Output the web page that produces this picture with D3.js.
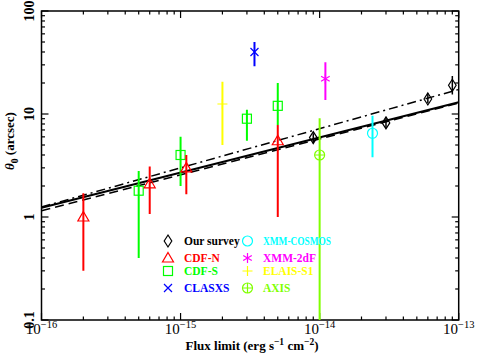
<!DOCTYPE html>
<html><head><meta charset="utf-8">
<script src="https://cdn.jsdelivr.net/npm/d3@7"></script>
<style>body{margin:0;background:#fff}svg{display:block}</style>
</head><body>
<script>
// ---- data ----
const surveyFlux = [9e-15, 3e-14, 6e-14, 9e-14];
const surveyTheta = [5.9, 8.2, 14, 19];
const surveyLo = [5.2, 7.3, 12.7, 15.5];
const surveyHi = [6.5, 9.3, 15.9, 23.4];

const cdfnFlux = [2e-16, 6e-16, 1.1e-15, 5e-15];
const cdfnTheta = [1.0, 2.1, 3.0, 5.5];
const cdfnLo = [0.3, 1.07, 1.66, 1.0];
const cdfnHi = [1.7, 3.1, 4.0, 7.8];

const cdfsFlux = [5e-16, 1e-15, 3e-15, 5e-15];
const cdfsTheta = [1.8, 4.0, 9.0, 12];
const cdfsLo = [0.4, 2.0, 5.5, 7.8];
const cdfsHi = [2.8, 6.0, 11, 20];

const clasxsFlux = [3.4e-15], clasxsTheta = [40], clasxsLo = [29], clasxsHi = [50];
const cosmosFlux = [2.4e-14], cosmosTheta = [6.5], cosmosLo = [3.8], cosmosHi = [9.6];
const xmm2dfFlux = [1.1e-14], xmm2dfTheta = [22], xmm2dfLo = [13.7], xmm2dfHi = [31.8];
const elaisFlux = [2e-15], elaisTheta = [12.5], elaisLo = [5.0], elaisHi = [20.6];
const axisFlux = [1e-14], axisTheta = [4.0], axisLo = [0.01], axisHi = [9.1];

// fitted lines (endpoints at flux 1e-16 and 1e-13)
const fitFlux = [1e-16, 1e-13];
const fitSolid = [1.23, 13.0];
const fitDashed = [1.15, 12.8];
const fitDashDot = [1.25, 17.3];

const xTickExps = [-16, -15, -14, -13];
const yTickVals = [0.1, 1, 10, 100];
const yTickLabels = ["0.1", "1", "10", "100"];

const legendItems = [
  {name: "Our survey", color: "#000000", sym: "diamond"},
  {name: "CDF-N", color: "#ff0000", sym: "triangle"},
  {name: "CDF-S", color: "#00ff00", sym: "square"},
  {name: "CLASXS", color: "#0000ff", sym: "cross"},
  {name: "XMM-COSMOS", color: "#00ffff", sym: "circle"},
  {name: "XMM-2dF", color: "#ff00ff", sym: "asterisk"},
  {name: "ELAIS-S1", color: "#ffff00", sym: "plus"},
  {name: "AXIS", color: "#80ff00", sym: "oplus"}
];

// ---- chart ----
const W = 477, H = 354;
const L = 41.5, R = 458.7, T = 11, B = 320;
const svg = d3.select("body").append("svg").attr("width", W).attr("height", H);
const x = d3.scaleLog().domain([1e-16, 1e-13]).range([L, R]);
const y = d3.scaleLog().domain([0.1, 100]).range([B, T]);
const font = "'Liberation Serif', 'DejaVu Serif', serif";

svg.append("defs").append("clipPath").attr("id", "clip")
  .append("rect").attr("x", L).attr("y", T).attr("width", R - L).attr("height", B - T);

// ticks (inward, all four sides)
const g = svg.append("g");
function minorTicks(dom) {
  const out = [];
  const lo = Math.round(Math.log10(dom[0])), hi = Math.round(Math.log10(dom[1]));
  for (let e = lo; e < hi; e++) for (let m = 1; m < 10; m++) out.push({v: m * Math.pow(10, e), major: m === 1});
  out.push({v: Math.pow(10, hi), major: true});
  return out;
}
minorTicks(x.domain()).forEach(t => {
  const px = x(t.v), len = t.major ? 7 : 3.5;
  g.append("line").attr("x1", px).attr("x2", px).attr("y1", B).attr("y2", B - len).attr("stroke", "#000").attr("stroke-width", 1.2);
  g.append("line").attr("x1", px).attr("x2", px).attr("y1", T).attr("y2", T + len).attr("stroke", "#000").attr("stroke-width", 1.2);
});
minorTicks(y.domain()).forEach(t => {
  const py = y(t.v), len = t.major ? 7 : 3.5;
  g.append("line").attr("y1", py).attr("y2", py).attr("x1", L).attr("x2", L + len).attr("stroke", "#000").attr("stroke-width", 1.2);
  g.append("line").attr("y1", py).attr("y2", py).attr("x1", R).attr("x2", R - len).attr("stroke", "#000").attr("stroke-width", 1.2);
});
svg.append("rect").attr("x", L).attr("y", T).attr("width", R - L).attr("height", B - T)
  .attr("fill", "none").attr("stroke", "#000").attr("stroke-width", 1.5);

// x tick labels
xTickExps.forEach(e => {
  const t = svg.append("text").attr("x", x(Math.pow(10, e))).attr("y", 334)
    .attr("text-anchor", "middle").attr("font-family", font).attr("font-size", 15).attr("fill", "#000");
  t.append("tspan").text("10");
  t.append("tspan").attr("dy", -6).attr("font-size", 10.5).text("\u2212" + Math.abs(e));
});
// y tick labels (rotated)
yTickVals.forEach((v, i) => {
  svg.append("text").attr("transform", `translate(34,${y(v)}) rotate(-90)`)
    .attr("text-anchor", "middle").attr("font-family", font).attr("font-size", 14).attr("font-weight", "bold")
    .attr("fill", "#000").text(yTickLabels[i]);
});
// axis titles
const xt = svg.append("text").attr("x", 252).attr("y", 350).attr("text-anchor", "middle")
  .attr("font-family", font).attr("font-size", 13).attr("font-weight", "bold").attr("fill", "#000");
xt.append("tspan").text("Flux limit (erg s");
xt.append("tspan").attr("dy", -5).attr("font-size", 9.5).text("\u22121");
xt.append("tspan").attr("dy", 5).text(" cm");
xt.append("tspan").attr("dy", -5).attr("font-size", 9.5).text("\u22122");
xt.append("tspan").attr("dy", 5).text(")");

const yt = svg.append("text").attr("transform", "translate(14,141) rotate(-90)").attr("text-anchor", "middle")
  .attr("font-family", font).attr("font-size", 13).attr("font-weight", "bold").attr("fill", "#000");
yt.append("tspan").attr("font-style", "italic").text("\u03b8");
yt.append("tspan").attr("dy", 4).attr("font-size", 9.5).text("0");
yt.append("tspan").attr("dy", -4).text(" (arcsec)");

// fit lines
const plot = svg.append("g").attr("clip-path", "url(#clip)");
const lineGen = vals => d3.line().x((d, i) => x(fitFlux[i])).y((d, i) => y(vals[i]))(vals);
plot.append("path").attr("d", lineGen(fitDashed)).attr("fill", "none").attr("stroke", "#000").attr("stroke-width", 1.5).attr("stroke-dasharray", "9,5");
plot.append("path").attr("d", lineGen(fitSolid)).attr("fill", "none").attr("stroke", "#000").attr("stroke-width", 2);
plot.append("path").attr("d", lineGen(fitDashDot)).attr("fill", "none").attr("stroke", "#000").attr("stroke-width", 1.5).attr("stroke-dasharray", "9,4,2,4");

// marker drawing
function marker(sel, sym, cx, cy, color) {
  const s = sel.append("g").attr("transform", `translate(${cx},${cy})`)
    .attr("fill", "none").attr("stroke", color).attr("stroke-width", 1.2);
  if (sym === "diamond") s.append("path").attr("d", "M0,-6L3.8,0L0,6L-3.8,0Z");
  else if (sym === "triangle") s.append("path").attr("d", "M0,-5.5L5.5,4L-5.5,4Z");
  else if (sym === "square") s.append("rect").attr("x", -4.5).attr("y", -4.5).attr("width", 9).attr("height", 9);
  else if (sym === "circle") s.append("circle").attr("r", 5);
  else if (sym === "cross") s.append("path").attr("d", "M-4,-4L4,4M-4,4L4,-4");
  else if (sym === "plus") s.append("path").attr("d", "M-5,0L5,0M0,-5L0,5");
  else if (sym === "asterisk") s.append("path").attr("d", "M0,-5L0,5M-4.3,-2.5L4.3,2.5M-4.3,2.5L4.3,-2.5");
  else if (sym === "oplus") { s.append("circle").attr("r", 5); s.append("path").attr("d", "M-5,0L5,0M0,-5L0,5"); }
}

const datasets = [
  {fx: cdfsFlux, th: cdfsTheta, lo: cdfsLo, hi: cdfsHi, ...legendItems[2]},
  {fx: cdfnFlux, th: cdfnTheta, lo: cdfnLo, hi: cdfnHi, ...legendItems[1]},
  {fx: clasxsFlux, th: clasxsTheta, lo: clasxsLo, hi: clasxsHi, ...legendItems[3]},
  {fx: cosmosFlux, th: cosmosTheta, lo: cosmosLo, hi: cosmosHi, ...legendItems[4]},
  {fx: xmm2dfFlux, th: xmm2dfTheta, lo: xmm2dfLo, hi: xmm2dfHi, ...legendItems[5]},
  {fx: elaisFlux, th: elaisTheta, lo: elaisLo, hi: elaisHi, ...legendItems[6]},
  {fx: axisFlux, th: axisTheta, lo: axisLo, hi: axisHi, ...legendItems[7]},
  {fx: surveyFlux, th: surveyTheta, lo: surveyLo, hi: surveyHi, ...legendItems[0]}
];
datasets.forEach(ds => {
  ds.fx.forEach((f, i) => {
    plot.append("line").attr("x1", x(f)).attr("x2", x(f)).attr("y1", y(ds.lo[i])).attr("y2", y(ds.hi[i]))
      .attr("stroke", ds.color).attr("stroke-width", ds.sym === "diamond" ? 1.5 : 2);
    marker(plot, ds.sym, x(f), y(ds.th[i]), ds.color);
  });
});

// legend
const legX = [168, 247.5], legTX = [184, 263], legY = [241, 258, 271, 288];
legendItems.forEach((it, i) => {
  const col = Math.floor(i / 4), row = i % 4;
  marker(svg, it.sym, legX[col], legY[row], it.color);
  const t = svg.append("text").attr("x", legTX[col]).attr("y", legY[row] + 4)
    .attr("font-family", font).attr("font-size", 11.5).attr("font-weight", "bold")
    .attr("fill", it.color).text(it.name);
  if (it.name === "XMM-COSMOS") t.attr("textLength", 68).attr("lengthAdjust", "spacingAndGlyphs");
});
</script>
</body></html>
